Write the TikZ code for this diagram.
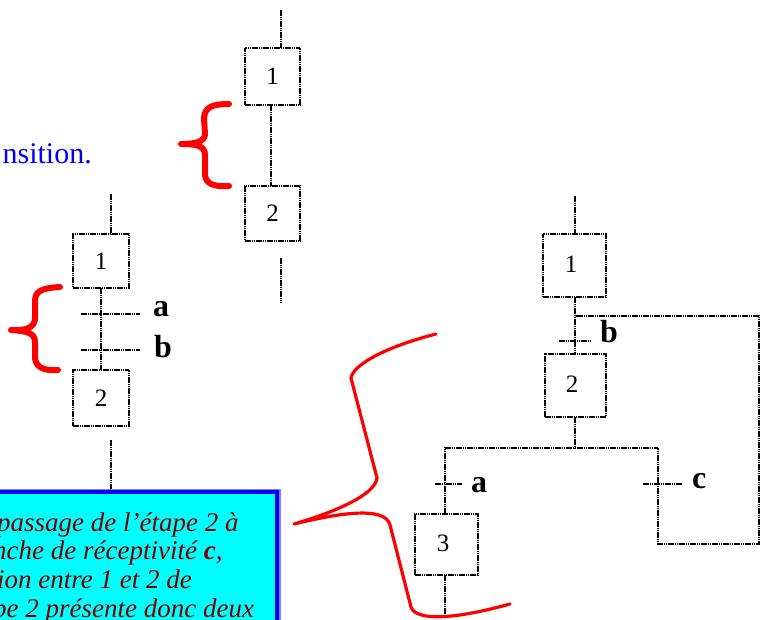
\documentclass[tikz,border=0pt]{standalone}
\usepackage{fontspec}
\setmainfont{Liberation Serif}
\definecolor{cadre}{RGB}{0,0,255}
\definecolor{fond}{RGB}{0,255,255}
\definecolor{texte}{RGB}{128,0,0}
\newcommand{\baisse}[1]{\raisebox{-1.5pt}{#1}}
\newcommand{\decale}[1]{\raisebox{3pt}{\hspace{-7pt}#1}}
\tikzset{
  etape/.style={draw, lien, inner sep=0pt, outer sep=0pt, font=\fontsize{25}{28}\selectfont},
  lien/.style={line width=1.8pt, dash pattern=on 1.6pt off 0.6pt},
  lettre/.style={inner sep=0pt, font=\fontsize{32}{36}\selectfont\bfseries},
  ligne/.style={anchor=base west, inner sep=0pt, text=texte, font=\fontsize{27}{30}\selectfont\itshape},
  accolade/.style={draw=red, line width=6pt, line cap=round, line join=round},
  trait/.style={draw=red, line width=3.2pt, line cap=round, line join=round}
}
\begin{document}
\begin{tikzpicture}[x=1pt, y=-1pt]

% Page
\clip (0,0) rectangle (768,619);
\useasboundingbox (0,0) rectangle (768,619);

% Blue sentence cut at the left edge
\node[anchor=base east, inner sep=0pt, text=cadre, font=\fontsize{30}{34}\selectfont] (phrase) at (92,163) {nsition.};

% Top chart
\node[etape, minimum width=55pt, minimum height=57pt] (h1) at (272.5,76.5) {\baisse{1}};
\node[etape, minimum width=55pt, minimum height=55pt] (h2) at (272.5,213.5) {\baisse{2}};
\coordinate (h1in) at (281,48);
\coordinate (h1top) at (281,10);
\coordinate (h2out) at (281,258);
\coordinate (h2end) at (281,303);
\draw[lien] (h1top) -- (h1in);
\draw[lien] (h1.south -| 271,0) -- (h2.north -| 271,0);
\draw[lien] (h2out) -- (h2end);

% Left chart
\node[etape, minimum width=56pt, minimum height=54pt] (g1) at (101,261) {\baisse{1}};
\node[etape, minimum width=56pt, minimum height=56pt] (g2) at (101,398) {\baisse{2}};
\coordinate (g1in) at (111,234);
\coordinate (g1top) at (111,194);
\coordinate (g2out) at (111,440);
\coordinate (g2end) at (111,490);
\draw[lien] (g1top) -- (g1in);
\draw[lien] (g1) -- (g2);
\draw[lien] (g2out) -- (g2end);
\coordinate (ga) at (81,314);
\coordinate (gaend) at (140,314);
\coordinate (gb) at (81,350);
\coordinate (gbend) at (140,350);
\draw[lien] (ga) -- (gaend);
\draw[lien] (gb) -- (gbend);
\node[lettre, anchor=base west] (gla) at (153,316) {a};
\node[lettre, anchor=base west] (glb) at (154,357) {b};

% Right chart
\node[etape, minimum width=63pt, minimum height=63pt] (d1) at (574.5,265.5) {\decale{1}};
\node[etape, minimum width=61pt, minimum height=63pt] (d2) at (575.5,385.5) {\decale{2}};
\node[etape, minimum width=63pt, minimum height=61pt] (d3) at (446.5,544.5) {\decale{3}};
\coordinate (d1in) at (575,234);
\coordinate (d1top) at (575,196);
\draw[lien] (d1top) -- (d1in);
\draw[lien] (575,297) coordinate (d1out) -- (575,354) coordinate (d2in);
\draw[lien] (575,417) coordinate (d2out) -- (575,448) coordinate (dj);
\coordinate (dg) at (445,448);
\coordinate (dc) at (658,448);
\coordinate (d3in) at (445,514);
\coordinate (d3out) at (445,575);
\coordinate (d3end) at (445,619);
\coordinate (dr) at (576,316);
\draw[lien] (d3in) -- (dg) -- (dc) -- (658,544) -- (759,544) -- (759,316) -- (dr);
\draw[lien] (d3out) -- (d3end);
\draw[lien] (559,341) coordinate (dtb) -- (590,341) coordinate (dtbe);
\draw[lien] (435,484) coordinate (dta) -- (462,484) coordinate (dtae);
\draw[lien] (643,484) coordinate (dtc) -- (682,484) coordinate (dtce);
\node[lettre, anchor=base west] (dlb) at (600,342) {b};
\node[lettre, anchor=base west] (dla) at (471,492) {a};
\node[lettre, anchor=base west] (dlc) at (692,488) {c};

% Red braces
\draw[accolade] (229,104) .. controls (212,104) and (205,107) .. (204,118)
  -- (205,134) .. controls (205,141) and (197,144) .. (181,144)
  .. controls (197,144) and (205,146) .. (205,155) -- (205,175)
  .. controls (206,184) and (214,187) .. (229,186);
\draw[accolade] (60,287) .. controls (42,288) and (35,291) .. (35,301)
  -- (35,318) .. controls (35,327) and (27,331) .. (11,330)
  .. controls (27,331) and (35,333) .. (35,342) -- (35,358)
  .. controls (36,367) and (43,371) .. (58,370);
\draw[trait] (436,334) .. controls (385,347) and (353,365) .. (351,378)
  -- (377,478) .. controls (375,495) and (335,512) .. (294,524)
  .. controls (335,514) and (385,505) .. (390,525)
  -- (411,607) .. controls (415,619) and (445,622) .. (510,604);

% Cyan frame cut by the page
\fill[cadre!50!white] (-10,489) rectangle (280.5,630);
\draw[draw=cadre, fill=fond, line width=4pt] (-10,492) rectangle (277,630);
\node[ligne] (l1) at (-3,531) {passage de l'étape 2 à};
\node[ligne] (l2) at (-7,559) {nche de réceptivité \textbf{c},};
\node[ligne] (l3) at (-3,588) {ion entre 1 et 2 de};
\node[ligne] (l4) at (-7,617) {pe 2 présente donc deux};

\end{tikzpicture}
\end{document}
